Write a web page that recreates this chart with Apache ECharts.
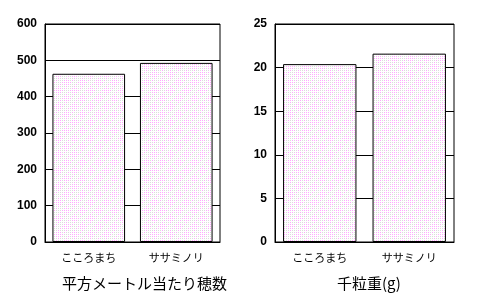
<!DOCTYPE html>
<html><head><meta charset="utf-8">
<script src="https://cdn.jsdelivr.net/npm/echarts@6/dist/echarts.min.js"></script>
<style>html,body{margin:0;padding:0;background:#fff}#c{width:484px;height:308px}</style>
</head><body><div id="c"></div>
<script>
const categories = ['こころまち', 'ササミノリ'];
const earsPerM2 = [463, 493];
const grainWeight = [20.4, 21.6];
const leftTicks = [0, 100, 200, 300, 400, 500, 600];
const rightTicks = [0, 5, 10, 15, 20, 25];
const leftTitle = '平方メートル当たり穂数';
const rightTitle = '千粒重(g)';

// dotted pink pattern
const pc = document.createElement('canvas');
pc.width = 16; pc.height = 16;
const g = pc.getContext('2d');
g.fillStyle = '#fff'; g.fillRect(0, 0, 16, 16);
for (let y = 0; y < 16; y += 2) {
  for (let x = 0; x < 16; x += 2) {
    const bx = Math.floor(x / 8), by = Math.floor(y / 8);
    const inBlock = ((bx + by) % 2 === 0) && (x % 8) < 6 && (y % 8) < 6;
    const pink = inBlock || ((x + y) % 8 === 0);
    g.fillStyle = pink ? '#ffa8ff' : '#dcdcdc';
    g.fillRect(x, y, 1, 1);
  }
}
const pattern = { image: pc, repeat: 'repeat' };

const chart = echarts.init(document.getElementById('c'), null, { renderer: 'canvas' });
const yAxisCommon = {
  type: 'value',
  axisLine: { show: true, lineStyle: { color: '#000', width: 1 } },
  axisTick: { show: false },
  splitLine: { show: true, lineStyle: { color: '#000', width: 1 } },
  axisLabel: { color: '#000', fontWeight: 'bold', fontSize: 12, fontFamily: 'Liberation Sans, Arial', margin: 8 }
};
const xAxisCommon = {
  type: 'category',
  data: categories,
  axisLine: { show: true, lineStyle: { color: '#000', width: 1 } },
  axisTick: { show: false },
  axisLabel: { color: '#000', fontSize: 11, fontFamily: 'Noto Sans CJK JP', margin: 10 }
};
chart.setOption({
  animation: false,
  backgroundColor: '#fff',
  grid: [
    { left: 45, top: 24, width: 175, height: 218, show: true, borderColor: '#000', borderWidth: 1, backgroundColor: 'transparent' },
    { left: 275, top: 24, width: 179, height: 218, show: true, borderColor: '#000', borderWidth: 1, backgroundColor: 'transparent' }
  ],
  xAxis: [
    Object.assign({ gridIndex: 0 }, xAxisCommon),
    Object.assign({ gridIndex: 1 }, xAxisCommon)
  ],
  yAxis: [
    Object.assign({ gridIndex: 0, min: leftTicks[0], max: leftTicks[leftTicks.length - 1], interval: leftTicks[1] - leftTicks[0] }, yAxisCommon),
    Object.assign({ gridIndex: 1, min: rightTicks[0], max: rightTicks[rightTicks.length - 1], interval: rightTicks[1] - rightTicks[0] }, yAxisCommon)
  ],
  series: [
    { type: 'bar', xAxisIndex: 0, yAxisIndex: 0, data: earsPerM2, barCategoryGap: '17%',
      itemStyle: { color: pattern, borderColor: '#000', borderWidth: 1 } },
    { type: 'bar', xAxisIndex: 1, yAxisIndex: 1, data: grainWeight, barCategoryGap: '18%',
      itemStyle: { color: pattern, borderColor: '#000', borderWidth: 1 } }
  ],
  graphic: [
    { type: 'text', left: 62, top: 276, style: { text: leftTitle, font: '15px "Noto Sans CJK JP"', fill: '#000' } },
    { type: 'text', left: 337, top: 276, style: { text: rightTitle, font: '15px "Noto Sans CJK JP"', fill: '#000' } }
  ]
});
</script></body></html>
